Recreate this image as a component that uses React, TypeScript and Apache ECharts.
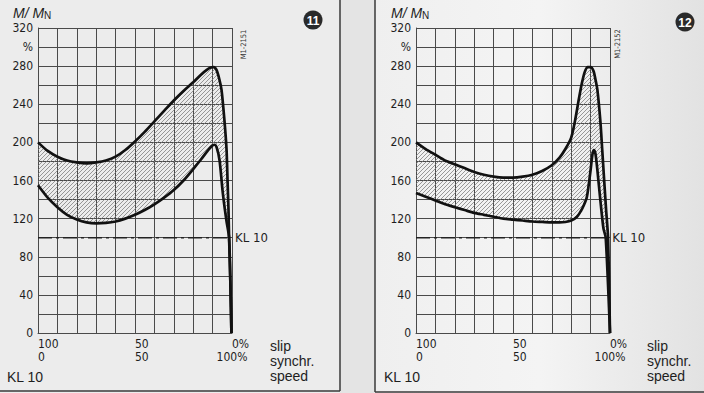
import React, { useEffect, useRef } from "react";
import * as echarts from "echarts";

// ---- data (speed % of synchronous speed, torque M/MN in %) ----
const leftUpper: number[][] = [
  [0, 200], [5, 191], [10, 185], [15, 181], [20, 179], [25, 178], [30, 179], [35, 181],
  [40, 185], [45, 192], [50, 201], [55, 211], [60, 222], [65, 233], [70, 244], [75, 254],
  [80, 263], [84, 271], [87, 276], [89, 278.5], [90.5, 279], [92, 276], [93.5, 266],
  [94.6, 255], [96.1, 223], [97.2, 192], [97.7, 160], [98.2, 129], [98.5, 100],
  [99.2, 50], [99.7, 0],
];
const leftLower: number[][] = [
  [0, 155], [5, 142], [10, 132], [15, 124], [20, 119], [25, 116], [30, 115], [35, 115.5],
  [40, 117], [45, 120], [50, 124], [55, 129], [60, 135], [65, 142], [70, 150], [75, 160],
  [80, 172], [84, 182], [87, 190], [89.5, 196], [91, 197.5], [92.2, 194], [93.6, 181],
  [95.1, 150], [96.3, 130], [97.2, 117], [98.5, 100], [99.2, 50], [99.7, 0],
];
const rightUpper: number[][] = [
  [0, 200], [5, 193], [10, 187], [15, 181], [20, 177], [25, 173], [30, 169], [35, 166],
  [40, 164], [45, 163], [50, 163], [55, 164], [60, 166], [65, 170], [70, 176], [74, 184],
  [77, 193], [80, 205], [82, 223], [84, 246], [85.5, 262], [87, 274], [88.5, 279],
  [90, 279], [91.5, 275], [92.5, 266], [93.5, 255], [95, 223], [96, 192], [97, 160],
  [98, 129], [99, 100], [100, 0],
];
const rightLower: number[][] = [
  [0, 147], [5, 143], [10, 139], [15, 135], [20, 132], [25, 129], [30, 126], [35, 124],
  [40, 122], [45, 120], [50, 119], [55, 118], [60, 117], [65, 116.5], [70, 116], [74, 116],
  [77, 116.5], [80, 118], [83, 122], [85, 128], [86.5, 134], [88, 142], [89, 155],
  [90, 171], [91, 188], [91.7, 192], [92.5, 188], [93.5, 171], [95, 140], [96.6, 110],
  [97.8, 100], [100, 0],
];
const kl10Left: number[][] = [[0, 100], [98.5, 100]];
const kl10Right: number[][] = [[0, 100], [97.6, 100]];

const slipLabels: Record<number, string> = { 0: "100", 50: "50", 100: "0%" };
const speedLabels: Record<number, string> = { 0: "0", 50: "50", 100: "100%" };
const yLabelStep = 40;
const yUnitAt = 300;

const NARROW = "'Liberation Sans Narrow', 'DejaVu Sans Condensed', 'Liberation Sans', sans-serif";
const SANS = "'Liberation Sans', Arial, sans-serif";
const GRID = "#4a4a4a";
const INK = "#1e1e1e";

function makeHatch() {
  const s = 4;
  const c = document.createElement("canvas");
  c.width = s;
  c.height = s;
  const ctx = c.getContext("2d")!;
  ctx.strokeStyle = "#7a7a7a";
  ctx.lineWidth = 0.75;
  ctx.beginPath();
  ctx.moveTo(0, s);
  ctx.lineTo(s, 0);
  ctx.moveTo(-1, 1);
  ctx.lineTo(1, -1);
  ctx.moveTo(s - 1, s + 1);
  ctx.lineTo(s + 1, s - 1);
  ctx.stroke();
  return c;
}

export default function App() {
  const ref = useRef<HTMLDivElement>(null);
  useEffect(() => {
    if (!ref.current) return;
    const chart = echarts.init(ref.current, undefined, { renderer: "svg" });
    const hatch: any = { image: makeHatch(), repeat: "repeat", imageWidth: 4, imageHeight: 4 };

    const grids = [
      { left: 38, top: 28, width: 194, height: 305 },
      { left: 416, top: 28, width: 194, height: 305 },
    ];

    const xAxes: any[] = [];
    const yAxes: any[] = [];
    [0, 1].forEach((g) => {
      xAxes.push({
        gridIndex: g, type: "value", min: 0, max: 100, interval: 10, position: "bottom",
        axisLine: { show: true, lineStyle: { color: GRID, width: 1 } },
        axisTick: { show: false },
        splitLine: { show: true, lineStyle: { color: GRID, width: 1 } },
        axisLabel: {
          formatter: (v: number) => slipLabels[v] ?? "",
          align: "left", margin: 5, fontSize: 12, color: INK, fontFamily: NARROW,
          showMinLabel: true, showMaxLabel: true,
        },
      });
      xAxes.push({
        gridIndex: g, type: "value", min: 0, max: 100, interval: 10, position: "bottom", offset: 13,
        axisLine: { show: false }, axisTick: { show: false }, splitLine: { show: false },
        axisLabel: {
          formatter: (v: number) => speedLabels[v] ?? "",
          align: "left", alignMaxLabel: "center", margin: 5, fontSize: 12, color: INK, fontFamily: NARROW,
          showMinLabel: true, showMaxLabel: true,
        },
      });
      yAxes.push({
        gridIndex: g, type: "value", min: 0, max: 320, interval: 20,
        axisLine: { show: true, lineStyle: { color: GRID, width: 1 } },
        axisTick: { show: false },
        splitLine: { show: true, lineStyle: { color: GRID, width: 1 } },
        axisLabel: {
          formatter: (v: number) => (v % yLabelStep === 0 ? String(v) : v === yUnitAt ? "%" : ""),
          margin: 5, fontSize: 12, color: INK, fontFamily: NARROW,
        },
      });
    });

    const band = (upper: number[][], lower: number[][], xi: number, yi: number) => ({
      type: "custom", xAxisIndex: xi, yAxisIndex: yi, data: [[50, 150]], z: 3, silent: true,
      renderItem: (_p: any, api: any) => {
        const up = upper.filter((p) => p[1] >= 100).map((p) => api.coord(p));
        const lo = lower.filter((p) => p[1] >= 100).slice().reverse().map((p) => api.coord(p));
        return { type: "polygon", shape: { points: up.concat(lo) }, style: { fill: hatch, stroke: null } };
      },
    });
    const curve = (data: number[][], xi: number, yi: number) => ({
      type: "line", xAxisIndex: xi, yAxisIndex: yi, data, smooth: 0.25, symbol: "none",
      lineStyle: { color: "#111", width: 2.7 }, z: 5, silent: true,
    });
    const kl = (data: number[][], xi: number, yi: number, dist: number) => ({
      type: "line", xAxisIndex: xi, yAxisIndex: yi, data, symbol: "none",
      lineStyle: { color: "#222", width: 1.4, type: [14, 4, 3, 4] }, z: 4, silent: true,
      endLabel: { show: true, formatter: "KL 10", distance: dist, fontSize: 13, fontFamily: NARROW, color: INK },
    });

    const title = (x: number) => ({
      type: "text", x, y: 13,
      style: {
        text: "{a|M/ M}{b|N}", fill: INK, verticalAlign: "middle",
        rich: {
          a: { fontSize: 14, fontStyle: "italic", fontFamily: SANS, fill: INK, lineHeight: 14 },
          b: { fontSize: 10, fontFamily: SANS, fill: INK, verticalAlign: "bottom", lineHeight: 10 },
        },
      },
    });
    const badge = (cx: number, cy: number, t: string) => ({
      type: "group", children: [
        { type: "circle", shape: { cx, cy, r: 9.5 }, style: { fill: "#2a2a2a" } },
        { type: "text", x: cx, y: cy + 0.5, style: { text: t, fill: "#fff", fontSize: 12, fontWeight: "bold", fontFamily: SANS, align: "center", verticalAlign: "middle" } },
      ],
    });
    const code = (x: number, y: number, t: string) => ({
      type: "text", x, y, rotation: Math.PI / 2,
      style: { text: t, fontSize: 7.5, fill: "#333", fontFamily: NARROW, align: "center", verticalAlign: "middle" },
    });
    const legendTexts = (x: number) => [
      { type: "text", x, y: 346, style: { text: "slip", fontSize: 14, fontFamily: SANS, fill: INK, verticalAlign: "middle" } },
      { type: "text", x, y: 361, style: { text: "synchr.", fontSize: 14, fontFamily: SANS, fill: INK, verticalAlign: "middle" } },
      { type: "text", x, y: 376, style: { text: "speed", fontSize: 14, fontFamily: SANS, fill: INK, verticalAlign: "middle" } },
    ];
    const klText = (x: number) => ({
      type: "text", x, y: 377, style: { text: "KL 10", fontSize: 14, fontFamily: SANS, fill: INK, verticalAlign: "middle" },
    });

    chart.setOption({
      animation: false,
      backgroundColor: "#ececec",
      grid: grids,
      xAxis: xAxes,
      yAxis: yAxes,
      series: [
        band(leftUpper, leftLower, 0, 0),
        curve(leftUpper, 0, 0),
        curve(leftLower, 0, 0),
        kl(kl10Left, 0, 0, 6),
        band(rightUpper, rightLower, 2, 1),
        curve(rightUpper, 2, 1),
        curve(rightLower, 2, 1),
        kl(kl10Right, 2, 1, 7),
      ],
      graphic: [
        { type: "rect", z: -10, shape: { x: 340, y: 0, width: 35, height: 393 }, style: { fill: "#e4e4e4" } },
        {
          type: "rect", z: -10, shape: { x: 375, y: 0, width: 329, height: 393 },
          style: {
            fill: new echarts.graphic.LinearGradient(0, 0, 1, 0, [
              { offset: 0, color: "#efefef" },
              { offset: 0.5, color: "#f4f4f4" },
              { offset: 1, color: "#e2e2e2" },
            ]),
          },
        },
        { type: "line", shape: { x1: 340, y1: 0, x2: 340, y2: 391 }, style: { stroke: "#3a3a3a", lineWidth: 1.5 } },
        { type: "line", shape: { x1: 0, y1: 391, x2: 340, y2: 391 }, style: { stroke: "#3a3a3a", lineWidth: 1.5 } },
        { type: "line", shape: { x1: 375, y1: 0, x2: 375, y2: 392 }, style: { stroke: "#3a3a3a", lineWidth: 1.5 } },
        { type: "line", shape: { x1: 375, y1: 392, x2: 704, y2: 392 }, style: { stroke: "#3a3a3a", lineWidth: 1.5 } },
        title(13),
        title(391),
        badge(313, 20, "11"),
        badge(685, 22, "12"),
        code(243.5, 44.5, "M1-2151"),
        code(617, 44, "M1-2152"),
        ...legendTexts(270),
        ...legendTexts(647),
        klText(7),
        klText(384),
      ],
    });
    return () => chart.dispose();
  }, []);
  return <div ref={ref} style={{ position: "fixed", left: 0, top: 0, width: 704, height: 393 }} />;
}
